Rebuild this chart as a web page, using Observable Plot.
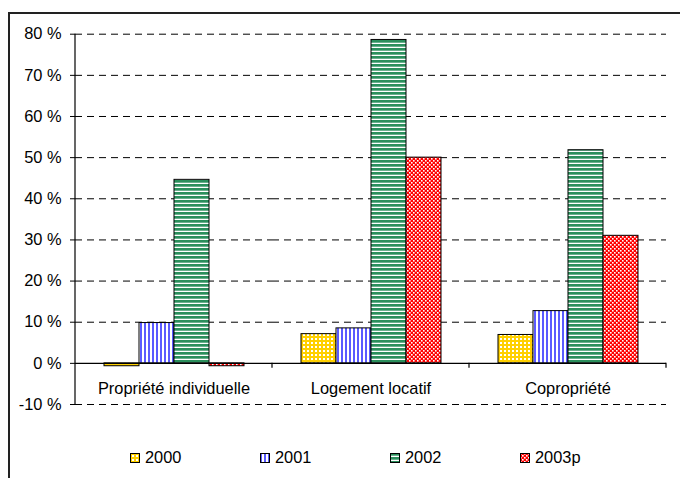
<!DOCTYPE html>
<html>
<head>
<meta charset="utf-8">
<script src="https://cdn.jsdelivr.net/npm/d3@7"></script>
<script src="https://cdn.jsdelivr.net/npm/@observablehq/plot@0.6"></script>
<style>
  html, body { margin: 0; padding: 0; background: #fff; overflow: hidden; }
  body { font-family: "Liberation Sans", Arial, sans-serif; }
  #wrap { position: relative; width: 680px; height: 478px; }
  #border { position: absolute; left: 8px; top: 12px; width: 720px; height: 520px; border: 2px solid #222; box-sizing: border-box; }
  #chart { position: absolute; left: 0; top: 0; }
  #legend { position: absolute; left: 0; top: 448px; width: 680px; height: 18px; font-size: 16.4px; line-height: 18px; color: #000; }
  .item { position: absolute; top: 0; white-space: nowrap; }
  .item svg { vertical-align: middle; margin-right: 5px; position: relative; top: -1px; }
  #defs { position: absolute; width: 0; height: 0; overflow: hidden; }
</style>
</head>
<body>
<svg id="defs" width="0" height="0">
  <defs>
    <pattern id="p2000" patternUnits="userSpaceOnUse" width="4" height="4">
      <rect width="4" height="4" fill="#ffd000"/>
      <rect x="2" y="2" width="2" height="2" fill="#fff"/>
    </pattern>
    <pattern id="p2001" patternUnits="userSpaceOnUse" width="4" height="4">
      <rect width="4" height="4" fill="#fff"/>
      <rect x="0" y="0" width="2" height="4" fill="#5a5aff"/>
    </pattern>
    <pattern id="p2002" patternUnits="userSpaceOnUse" width="4" height="4">
      <rect width="4" height="4" fill="#fff"/>
      <rect x="0" y="0" width="4" height="2.7" fill="#2b8f5c"/>
    </pattern>
    <pattern id="p2003" patternUnits="userSpaceOnUse" width="4" height="4">
      <rect width="4" height="4" fill="#ff0000"/>
      <rect x="0" y="0" width="1.6" height="1.6" fill="#fff"/>
      <rect x="2" y="2" width="1.6" height="1.6" fill="#fff"/>
    </pattern>
  </defs>
</svg>
<div id="wrap">
  <div id="border"></div>
  <div id="chart"></div>
  <div id="legend"></div>
</div>
<script>
// ---- data ----
const categories = ["Propriété individuelle", "Logement locatif", "Copropriété"];
const years = ["2000", "2001", "2002", "2003p"];
const values2000 = [-0.7, 7.1, 6.9];
const values2001 = [9.8, 8.5, 12.7];
const values2002 = [44.6, 78.6, 51.8];
const values2003p = [-0.7, 50.0, 31.0];
const yTicks = [-10, 0, 10, 20, 30, 40, 50, 60, 70, 80];
const patternFills = ["url(#p2000)", "url(#p2001)", "url(#p2002)", "url(#p2003)"];

const seriesValues = [values2000, values2001, values2002, values2003p];
const data = categories.flatMap((c, i) =>
  years.map((yr, j) => ({category: c, year: yr, value: seriesValues[j][i]}))
);

const font = "Liberation Sans, Arial, sans-serif";

const chart = Plot.plot({
  width: 680,
  height: 420,
  marginTop: 33.7,
  marginBottom: 16,
  marginLeft: 75,
  marginRight: 14,
  style: {fontFamily: font, fontSize: "16.4px", color: "#000", background: "transparent"},
  fx: {domain: categories, padding: 0, label: null},
  x: {domain: years, paddingInner: 0, paddingOuter: 0.74, axis: null},
  y: {domain: [-10, 80], label: null},
  color: {domain: years, range: patternFills},
  marks: [
    Plot.gridY(yTicks.filter(d => d !== 0), {stroke: "#000", strokeOpacity: 1, strokeWidth: 1, strokeDasharray: "7,5"}),
    Plot.barY(data, {fx: "category", x: "year", y: "value", fill: "year", stroke: "#000", strokeWidth: 1}),
    Plot.ruleY([0], {stroke: "#000", strokeWidth: 1.2}),
    Plot.axisY({ticks: yTicks, tickSize: 5, tickPadding: 9, tickFormat: d => `${d} %`, fontSize: 16.4, label: null}),
    Plot.axisFx({anchor: "bottom", tickSize: 0, tickPadding: 0, dy: -22, fontSize: 16.4, label: null})
  ]
});

document.getElementById("chart").appendChild(chart);

// axis line and category boundary ticks drawn from the library's scales
const fxs = chart.scale("fx");
const ys = chart.scale("y");
const yScale = d3.scaleLinear(ys.domain, ys.range);
const band = d3.scaleBand(fxs.domain, fxs.range)
  .paddingInner(fxs.paddingInner ?? 0)
  .paddingOuter(fxs.paddingOuter ?? 0);
const g = d3.select(chart).append("g").attr("stroke", "#000").attr("stroke-width", 1.2);
const x0 = fxs.range[0];
g.append("line").attr("x1", x0).attr("x2", x0).attr("y1", yScale(80)).attr("y2", yScale(-10));
fxs.domain.forEach(c => {
  const xr = band(c) + band.bandwidth();
  g.append("line").attr("x1", xr).attr("x2", xr).attr("y1", yScale(0)).attr("y2", yScale(0) + 5);
});

// legend
const legend = d3.select("#legend");
years.forEach((yr, j) => {
  const item = legend.append("span").attr("class", "item").style("left", `${130 + j * 130}px`);
  const s = item.append("svg").attr("width", 10).attr("height", 10);
  s.append("rect").attr("x", 0.5).attr("y", 0.5).attr("width", 9).attr("height", 9)
    .attr("fill", patternFills[j]).attr("stroke", "#000").attr("stroke-width", 1);
  item.append("span").text(yr);
});
</script>
</body>
</html>
